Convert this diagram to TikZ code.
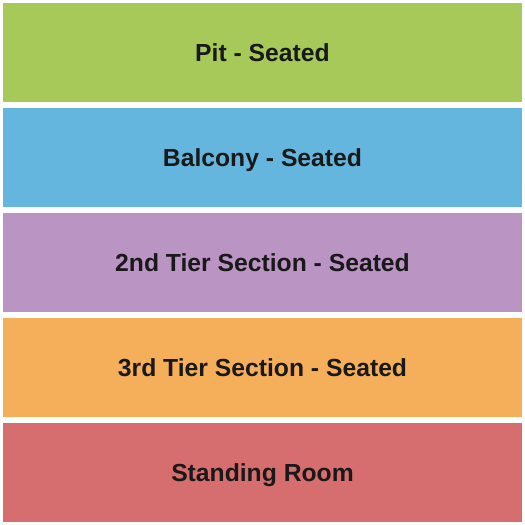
\documentclass[tikz,border=0pt]{standalone}
\usepackage{fontspec}
\setmainfont{Liberation Sans}
\usetikzlibrary{positioning}
\definecolor{pitgreen}{RGB}{166,201,90}
\definecolor{balconyblue}{RGB}{100,182,222}
\definecolor{tierpurple}{RGB}{186,148,195}
\definecolor{tierorange}{RGB}{245,174,90}
\definecolor{standred}{RGB}{214,109,110}
\tikzset{
  section/.style={rectangle, draw=none, minimum width=519*0.5pt, minimum height=99*0.5pt,
    inner sep=0pt, text height=0.88em, text depth=0pt,
    font=\bfseries\fontsize{12.35}{14}\selectfont, text=black!90},
}
\begin{document}
\begin{tikzpicture}[x=0.5pt,y=-0.5pt]
         \useasboundingbox (0,0) rectangle (525,525);
         % Define sections
         \node[section, fill=pitgreen] (pit) at (262.5,52.5) {Pit - Seated};
         \node[section, fill=balconyblue] (balcony) at (262.5,157.5) {Balcony - Seated};
         \node[section, fill=tierpurple] (tier2) at (262.5,262.5) {2nd Tier Section - Seated};
         \node[section, fill=tierorange] (tier3) at (262.5,367.5) {3rd Tier Section - Seated};
         \node[section, fill=standred] (standing) at (262.5,472.5) {Standing Room};
      \end{tikzpicture}
\end{document}
